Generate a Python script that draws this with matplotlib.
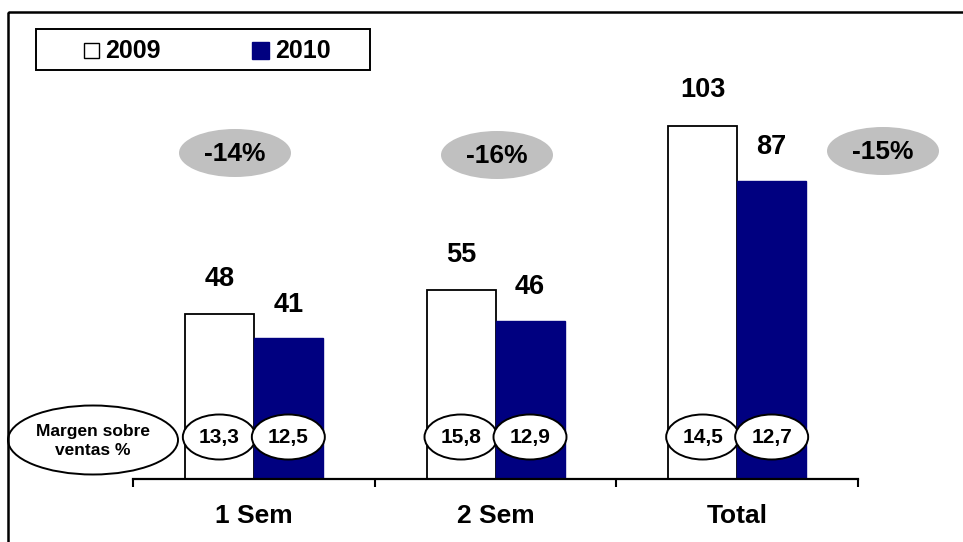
import matplotlib
matplotlib.use("Agg")
import matplotlib.pyplot as plt
from matplotlib.patches import Ellipse, Rectangle
from matplotlib.transforms import Affine2D
import numpy as np

plt.rcParams['font.family'] = ['Liberation Sans', 'DejaVu Sans']
plt.rcParams['font.weight'] = 'bold'

# ---- data ----
categories = ["1 Sem", "2 Sem", "Total"]
series_names = ["2009", "2010"]
values_2009 = [48, 55, 103]
values_2010 = [41, 46, 87]
margin_2009 = ["13,3", "15,8", "14,5"]
margin_2010 = ["12,5", "12,9", "12,7"]
change_labels = ["-14%", "-16%", "-15%"]
margin_title = "Margen sobre\nventas %"

# ---- layout (pixels) ----
W, H = 963, 542
AX_L, AX_R, BASE, TOP = 133, 858, 479, 12
PX_PER_UNIT = 3.43
NAVY = "#000080"
GRAY = "#C0C0C0"

fig = plt.figure(figsize=(W / 100, H / 100), dpi=100)
ax = fig.add_axes([AX_L / W, (H - BASE) / H, (AX_R - AX_L) / W, (BASE - TOP) / H])
ymax = (BASE - TOP) / PX_PER_UNIT
ax.set_xlim(-0.5, len(categories) - 0.5)
ax.set_ylim(0, ymax)
px_x = (AX_R - AX_L) / len(categories)   # pixels per x unit

# pixel transform (origin top-left)
pix = Affine2D().scale(1 / W, -1 / H).translate(0, 1) + fig.transFigure

x = np.arange(len(categories))
bw = 69 / px_x
ax.bar(x - bw / 2, values_2009, bw, color="white", edgecolor="black", linewidth=1.3, zorder=2)
ax.bar(x + bw / 2, values_2010, bw, color=NAVY, edgecolor=NAVY, linewidth=1.0, zorder=2)

for xi, v in zip(x - bw / 2, values_2009):
    ax.annotate(str(v), (xi, v), xytext=(0, 16), textcoords="offset points",
                ha="center", va="bottom", fontsize=19.5, fontweight="bold")
for xi, v in zip(x + bw / 2, values_2010):
    ax.annotate(str(v), (xi, v), xytext=(0, 15), textcoords="offset points",
                ha="center", va="bottom", fontsize=19.5, fontweight="bold")

# margin ellipses
ey = 42 / PX_PER_UNIT
ew = 73 / px_x
eh = 45 / PX_PER_UNIT
for xi, t1, t2 in zip(x, margin_2009, margin_2010):
    for xc, t in ((xi - bw / 2, t1), (xi + bw / 2, t2)):
        ax.add_patch(Ellipse((xc, ey), ew, eh, facecolor="white", edgecolor="black",
                             linewidth=1.4, zorder=3))
        ax.text(xc, ey, t, ha="center", va="center", fontsize=15, fontweight="bold", zorder=4)

# margin title ellipse
fig.patches.append(Ellipse((93, 440), 170, 69, transform=pix, facecolor="white",
                           edgecolor="black", linewidth=1.4))
fig.text(93 / W, 1 - 441 / H, margin_title, ha="center", va="center", fontsize=12.5,
         fontweight="bold", linespacing=1.3)

# change ellipses
change_pos = [(235, 153), (497, 155), (883, 151)]
for (cx, cy), t in zip(change_pos, change_labels):
    fig.patches.append(Ellipse((cx, cy), 112, 48, transform=pix, facecolor=GRAY,
                               edgecolor="none"))
    fig.text(cx / W, 1 - (cy + 1) / H, t, ha="center", va="center", fontsize=19,
             fontweight="bold")

# axes styling
for s in ("left", "right", "top"):
    ax.spines[s].set_visible(False)
ax.spines["bottom"].set_linewidth(1.6)
ax.set_yticks([])
ax.set_xticks(x)
ax.set_xticklabels(categories, fontsize=19, fontweight="bold")
ax.tick_params(axis="x", which="major", length=0, pad=18)
ax.set_xticks(np.arange(len(categories) + 1) - 0.5, minor=True)
ax.tick_params(axis="x", which="minor", length=6, width=1.5, direction="out")
ax.patch.set_alpha(0)

# outer frame
fig.patches.append(Rectangle((8, 12), 980, 560, transform=pix, facecolor="none",
                             edgecolor="black", linewidth=1.8))

# legend (manual)
fig.patches.append(Rectangle((36, 29), 334, 41, transform=pix, facecolor="white",
                             edgecolor="black", linewidth=1.4))
leg_items = [(series_names[0], "white", "black", 84, 15), (series_names[1], NAVY, NAVY, 252, 17)]
for name, fc, ec, lx, sz in leg_items:
    fig.patches.append(Rectangle((lx, 50 - sz / 2), sz, sz, transform=pix, facecolor=fc,
                                 edgecolor=ec, linewidth=1.0))
    fig.text((lx + sz + 6) / W, 1 - 51 / H, name, ha="left", va="center", fontsize=18,
             fontweight="bold")

fig.savefig("out.png", dpi=100)
